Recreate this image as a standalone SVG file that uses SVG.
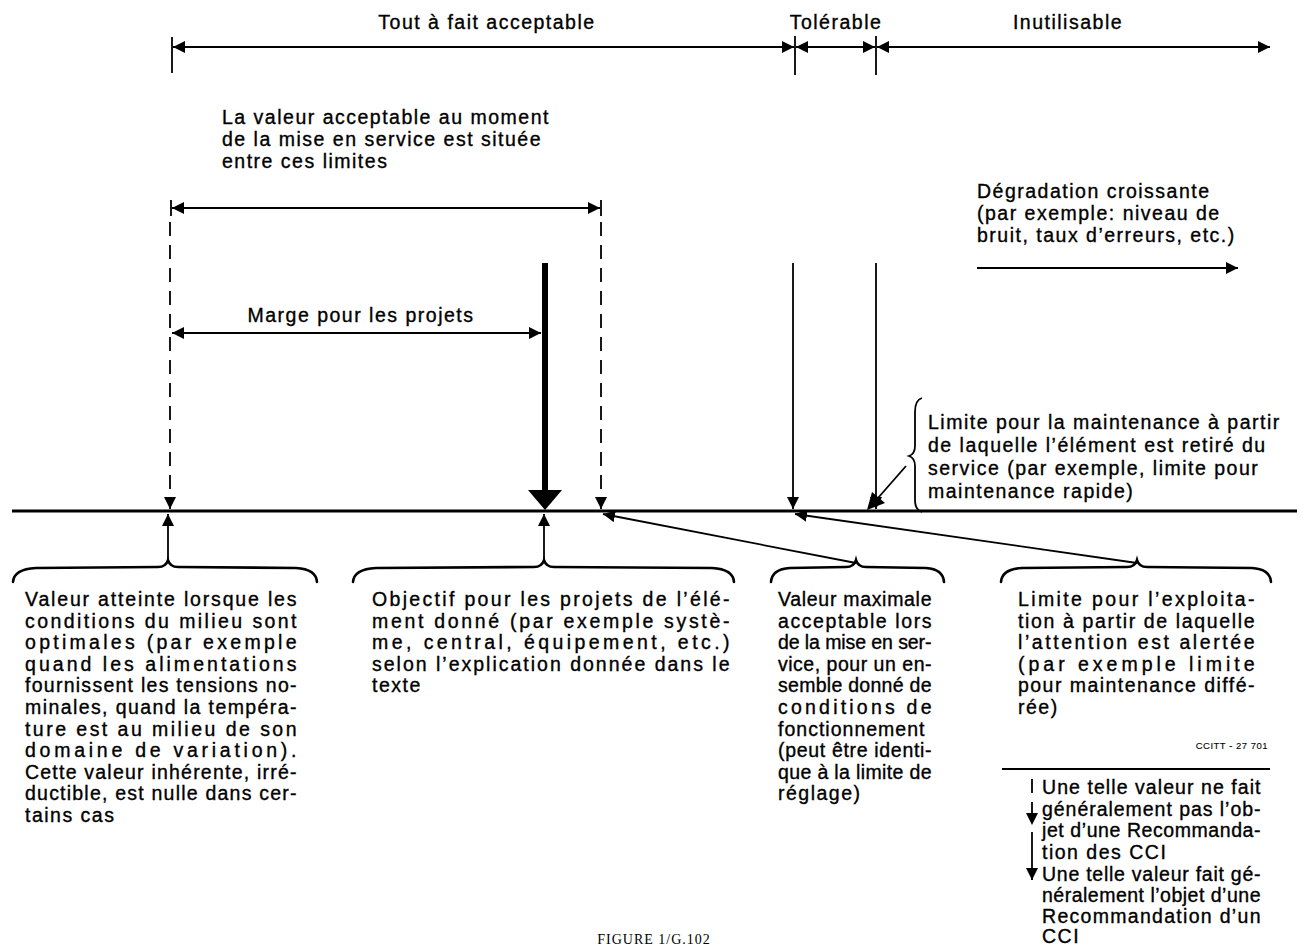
<svg xmlns="http://www.w3.org/2000/svg" width="1310" height="945" viewBox="0 0 1310 945">
<style>
text{font-family:"Liberation Sans",Arial,sans-serif;font-size:19.5px;letter-spacing:1.5px;fill:#000;stroke:#000;stroke-width:0.35}
.ln{stroke:#000;stroke-width:1.8;fill:none}
.dash{stroke:#000;stroke-width:1.8;fill:none;stroke-dasharray:14 9}
.brace{stroke:#000;stroke-width:2.6;fill:none;stroke-linecap:round}
.small{font-size:9.5px;letter-spacing:0.5px;stroke-width:0.1}
.cap{font-family:"Liberation Serif","Times New Roman",serif;font-size:14px;letter-spacing:1px;stroke-width:0}
</style>
<defs>
<marker id="ah" viewBox="0 0 12 12" refX="12" refY="6" markerWidth="12" markerHeight="12" markerUnits="userSpaceOnUse" orient="auto-start-reverse">
<path d="M0,0 L12,6 L0,12 z" fill="#000"/>
</marker>
<marker id="ahs" viewBox="0 0 12 12" refX="12" refY="6" markerWidth="14" markerHeight="12" markerUnits="userSpaceOnUse" orient="auto-start-reverse">
<path d="M0,0 L12,6 L0,12 z" fill="#000"/>
</marker>
</defs>

<g id="connectors">
<line x1="12" y1="511" x2="1297" y2="511" stroke="#000" stroke-width="3"/>
<line class="ln" x1="172" y1="37" x2="172" y2="73"/>
<line class="ln" x1="795" y1="36" x2="795" y2="75"/>
<line class="ln" x1="876" y1="36" x2="876" y2="75"/>
<line class="ln" x1="173" y1="47" x2="794" y2="47" marker-start="url(#ah)" marker-end="url(#ah)"/>
<line class="ln" x1="796" y1="47" x2="875" y2="47" marker-start="url(#ah)" marker-end="url(#ah)"/>
<line class="ln" x1="877" y1="47" x2="1270" y2="47" marker-start="url(#ah)" marker-end="url(#ah)"/>
<line class="ln" x1="171" y1="200" x2="171" y2="216"/>
<line class="ln" x1="601" y1="200" x2="601" y2="216"/>
<line class="ln" x1="172" y1="208" x2="600" y2="208" marker-start="url(#ah)" marker-end="url(#ah)"/>
<line class="ln" x1="172" y1="333" x2="541" y2="333" marker-start="url(#ah)" marker-end="url(#ah)"/>
<line class="dash" x1="170" y1="222" x2="170" y2="509" marker-end="url(#ah)"/>
<line class="dash" x1="601" y1="222" x2="601" y2="509" marker-end="url(#ah)"/>
<line x1="545" y1="263" x2="545" y2="492" stroke="#000" stroke-width="6"/>
<path d="M528,490 L562,490 L545,510 z" fill="#000"/>
<line class="ln" x1="793" y1="263" x2="793" y2="509" marker-end="url(#ah)"/>
<line class="ln" x1="876" y1="263" x2="876" y2="509" marker-end="url(#ah)"/>
<line class="ln" x1="977" y1="268" x2="1238" y2="268" marker-end="url(#ahs)"/>
<line x1="906" y1="466" x2="878" y2="498" stroke="#000" stroke-width="1.8"/>
<path d="M867,510 L872,492 L885,503 z" fill="#000"/>
<line class="ln" x1="168" y1="563" x2="168" y2="514" marker-end="url(#ah)"/>
<line class="ln" x1="544" y1="563" x2="544" y2="514" marker-end="url(#ah)"/>
<line class="ln" x1="856" y1="563" x2="603" y2="514" marker-end="url(#ah)"/>
<line class="ln" x1="1137" y1="563" x2="795" y2="514" marker-end="url(#ah)"/>
<path class="brace" d="M13,582 Q14,569 36,568 L158,567 Q166,567 168,560 Q170,567 178,567 L296,568 Q316,569 317,582"/>
<path class="brace" d="M353,582 Q354,569 376,568 L534,567 Q542,567 544,560 Q546,567 554,567 L712,568 Q733,569 734,582"/>
<path class="brace" d="M771,582 Q772,569 790,568 L846,567 Q854,567 856,560 Q858,567 866,567 L926,568 Q943,569 944,582"/>
<path class="brace" d="M1001,582 Q1002,569 1022,568 L1127,567 Q1135,567 1137,560 Q1139,567 1147,567 L1252,568 Q1270,569 1271,582"/>
<path class="ln" stroke-width="2" d="M922,398 Q915,400 915,412 L915,446 Q915,454 909,456 Q915,458 915,466 L915,500 Q915,510 922,512"/>
<line class="ln" x1="1002" y1="769" x2="1270" y2="769"/>
<line class="dash" stroke-dasharray="9 7" x1="1032" y1="779" x2="1032" y2="825" marker-end="url(#ah)"/>
<line class="ln" x1="1032" y1="832" x2="1032" y2="880" marker-end="url(#ah)"/>
</g>

<g id="label-tout">
<text x="487" y="29" text-anchor="middle">Tout à fait acceptable</text>
</g>
<g id="label-tolerable">
<text x="836" y="29" text-anchor="middle">Tolérable</text>
</g>
<g id="label-inutilisable">
<text x="1068" y="29" text-anchor="middle">Inutilisable</text>
</g>

<g id="label-mise-en-service">
<text x="222" y="124">La valeur acceptable au moment</text>
<text x="222" y="146">de la mise en service est située</text>
<text x="222" y="168">entre ces limites</text>
</g>

<g id="label-marge">
<text x="361" y="322" text-anchor="middle">Marge pour les projets</text>
</g>

<g id="label-degradation">
<text x="977" y="198">Dégradation croissante</text>
<text x="977" y="220">(par exemple: niveau de</text>
<text x="977" y="242">bruit, taux d’erreurs, etc.)</text>
</g>

<g id="label-maintenance">
<text x="928" y="429">Limite pour la maintenance à partir</text>
<text x="928" y="452">de laquelle l’élément est retiré du</text>
<text x="928" y="475">service (par exemple, limite pour</text>
<text x="928" y="498">maintenance rapide)</text>
</g>

<g id="node-valeur-atteinte">
<text x="25" y="606" textLength="273" lengthAdjust="spacing">Valeur atteinte lorsque les</text>
<text x="25" y="627.6" textLength="273" lengthAdjust="spacing">conditions du milieu sont</text>
<text x="25" y="649.2" textLength="273" lengthAdjust="spacing">optimales (par exemple</text>
<text x="25" y="670.8" textLength="273" lengthAdjust="spacing">quand les alimentations</text>
<text x="25" y="692.4" textLength="273" lengthAdjust="spacing">fournissent les tensions no-</text>
<text x="25" y="714" textLength="273" lengthAdjust="spacing">minales, quand la tempéra-</text>
<text x="25" y="735.6" textLength="273" lengthAdjust="spacing">ture est au milieu de son</text>
<text x="25" y="757.2" textLength="273" lengthAdjust="spacing">domaine de variation).</text>
<text x="25" y="778.8" textLength="273" lengthAdjust="spacing">Cette valeur inhérente, irré-</text>
<text x="25" y="800.4" textLength="273" lengthAdjust="spacing">ductible, est nulle dans cer-</text>
<text x="25" y="822">tains cas</text>
</g>

<g id="node-objectif">
<text x="372" y="606" textLength="359" lengthAdjust="spacing">Objectif pour les projets de l’élé-</text>
<text x="372" y="627.6" textLength="359" lengthAdjust="spacing">ment donné (par exemple systè-</text>
<text x="372" y="649.2" textLength="359" lengthAdjust="spacing">me, central, équipement, etc.)</text>
<text x="372" y="670.8" textLength="359" lengthAdjust="spacing">selon l’explication donnée dans le</text>
<text x="372" y="692.4">texte</text>
</g>

<g id="node-valeur-maximale">
<text x="778" y="606" textLength="155" lengthAdjust="spacing">Valeur maximale</text>
<text x="778" y="627.6" textLength="155" lengthAdjust="spacing">acceptable lors</text>
<text x="778" y="649.2" textLength="155" lengthAdjust="spacing">de la mise en ser-</text>
<text x="778" y="670.8" textLength="155" lengthAdjust="spacing">vice, pour un en-</text>
<text x="778" y="692.4" textLength="155" lengthAdjust="spacing">semble donné de</text>
<text x="778" y="714" textLength="155" lengthAdjust="spacing">conditions de</text>
<text x="778" y="735.6" textLength="148" lengthAdjust="spacing">fonctionnement</text>
<text x="778" y="757.2" textLength="155" lengthAdjust="spacing">(peut être identi-</text>
<text x="778" y="778.8" textLength="155" lengthAdjust="spacing">que à la limite de</text>
<text x="778" y="800.4">réglage)</text>
</g>

<g id="node-limite-exploitation">
<text x="1018" y="606" textLength="238" lengthAdjust="spacing">Limite pour l’exploita-</text>
<text x="1018" y="627.6" textLength="238" lengthAdjust="spacing">tion à partir de laquelle</text>
<text x="1018" y="649.2" textLength="238" lengthAdjust="spacing">l’attention est alertée</text>
<text x="1018" y="670.8" textLength="238" lengthAdjust="spacing">(par exemple limite</text>
<text x="1018" y="692.4" textLength="238" lengthAdjust="spacing">pour maintenance diffé-</text>
<text x="1018" y="714">rée)</text>
</g>

<g id="ref-number">
<text class="small" x="1268" y="749" text-anchor="end">CCITT - 27 701</text>
</g>

<g id="legend">
<text x="1042" y="794" textLength="220" lengthAdjust="spacing">Une telle valeur ne fait</text>
<text x="1042" y="815.5" textLength="220" lengthAdjust="spacing">généralement pas l’ob-</text>
<text x="1042" y="837" textLength="220" lengthAdjust="spacing">jet d’une Recommanda-</text>
<text x="1042" y="858.5">tion des CCI</text>
<text x="1042" y="881" textLength="220" lengthAdjust="spacing">Une telle valeur fait gé-</text>
<text x="1042" y="902" textLength="220" lengthAdjust="spacing">néralement l’objet d’une</text>
<text x="1042" y="923" textLength="220" lengthAdjust="spacing">Recommandation d’un</text>
<text x="1042" y="943">CCI</text>
</g>

<g id="caption">
<text class="cap" x="654" y="944" text-anchor="middle">FIGURE 1/G.102</text>
</g>
</svg>
